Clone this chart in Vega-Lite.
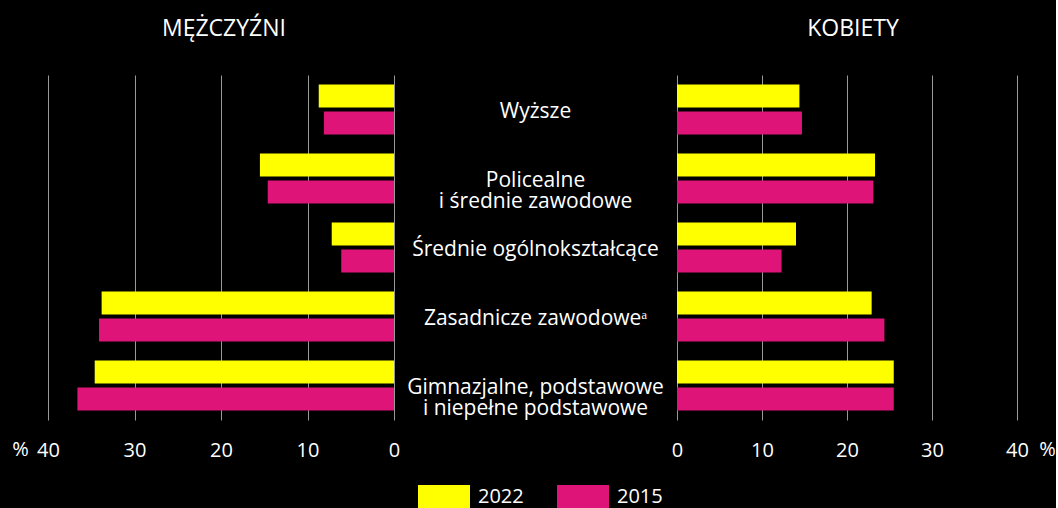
{
  "$schema": "https://vega.github.io/schema/vega-lite/v6.json",
  "background": "#000000",
  "padding": {"left": 11, "top": 18, "right": 0, "bottom": 0},
  "config": {
    "view": {"stroke": null},
    "font": "Open Sans",
    "concat": {"spacing": 0}
  },
  "bounds": "flush",
  "spacing": 0,
  "data": {
    "values": [
      {"category": "Wyższe", "sex": "M", "year": "2022", "value": 8.7},
      {"category": "Wyższe", "sex": "M", "year": "2015", "value": 8.1},
      {"category": "Policealne|i średnie zawodowe", "sex": "M", "year": "2022", "value": 15.5},
      {"category": "Policealne|i średnie zawodowe", "sex": "M", "year": "2015", "value": 14.6},
      {"category": "Średnie ogólnokształcące", "sex": "M", "year": "2022", "value": 7.2},
      {"category": "Średnie ogólnokształcące", "sex": "M", "year": "2015", "value": 6.1},
      {"category": "Zasadnicze zawodoweᵃ", "sex": "M", "year": "2022", "value": 33.8},
      {"category": "Zasadnicze zawodoweᵃ", "sex": "M", "year": "2015", "value": 34.1},
      {"category": "Gimnazjalne, podstawowe|i niepełne podstawowe", "sex": "M", "year": "2022", "value": 34.6},
      {"category": "Gimnazjalne, podstawowe|i niepełne podstawowe", "sex": "M", "year": "2015", "value": 36.6},
      {"category": "Wyższe", "sex": "K", "year": "2022", "value": 14.4},
      {"category": "Wyższe", "sex": "K", "year": "2015", "value": 14.7},
      {"category": "Policealne|i średnie zawodowe", "sex": "K", "year": "2022", "value": 23.3},
      {"category": "Policealne|i średnie zawodowe", "sex": "K", "year": "2015", "value": 23.1},
      {"category": "Średnie ogólnokształcące", "sex": "K", "year": "2022", "value": 14.0},
      {"category": "Średnie ogólnokształcące", "sex": "K", "year": "2015", "value": 12.3},
      {"category": "Zasadnicze zawodoweᵃ", "sex": "K", "year": "2022", "value": 22.9},
      {"category": "Zasadnicze zawodoweᵃ", "sex": "K", "year": "2015", "value": 24.4},
      {"category": "Gimnazjalne, podstawowe|i niepełne podstawowe", "sex": "K", "year": "2022", "value": 25.5},
      {"category": "Gimnazjalne, podstawowe|i niepełne podstawowe", "sex": "K", "year": "2015", "value": 25.5}
    ]
  },
  "resolve": {"scale": {"x": "independent", "y": "independent"}},
  "hconcat": [
    {
      "width": 346,
      "height": 345,
      "title": {"text": "MĘŻCZYŹNI", "fontSize": 23, "fontWeight": "normal", "color": "#ffffff", "baseline": "alphabetic", "offset": 16, "dx": 3, "font": "Open Sans"},
      "transform": [{"filter": "datum.sex == 'M'"}],
      "mark": {"type": "bar"},
      "encoding": {
        "y": {"field": "category", "type": "nominal", "sort": ["Wyższe", "Policealne|i średnie zawodowe", "Średnie ogólnokształcące", "Zasadnicze zawodoweᵃ", "Gimnazjalne, podstawowe|i niepełne podstawowe"], "axis": null, "scale": {"paddingInner": 0.275, "paddingOuter": 0.1375}},
        "yOffset": {"field": "year", "type": "nominal", "sort": ["2022", "2015"], "scale": {"paddingInner": 0.148}},
        "x": {"field": "value", "type": "quantitative", "scale": {"domain": [0, 40], "reverse": true},
          "axis": {"values": [0, 10, 20, 30, 40], "grid": true, "gridColor": "#999999", "gridWidth": 1, "domain": false, "ticks": false, "labelFlush": false, "labelPadding": 20, "labelFontSize": 20, "labelColor": "#ffffff", "labelFont": "Open Sans",
            "title": "%", "titleFontSize": 20, "titleFontWeight": "normal", "titleColor": "#ffffff", "titleX": -28, "titleY": 35, "titleBaseline": "alphabetic", "titleAlign": "center", "titleAnchor": null}},
        "color": {"field": "year", "type": "nominal", "scale": {"domain": ["2022", "2015"], "range": ["#ffff00", "#df1479"]},
          "legend": {"orient": "none", "legendX": 370, "legendY": 396, "direction": "horizontal", "title": null, "symbolType": "M-1,-0.46H1V0.46H-1Z", "symbolSize": 2704, "symbolStrokeWidth": 0, "labelFontSize": 20, "labelColor": "#ffffff", "labelFont": "Open Sans", "labelOffset": 8, "columnPadding": 33}}
      }
    },
    {
      "width": 283,
      "height": 345,
      "transform": [{"filter": "datum.sex == 'M' && datum.year == '2022'"}],
      "mark": {"type": "text", "color": "#ffffff", "fontSize": 21, "lineBreak": "|", "lineHeight": 21, "align": "center", "baseline": "middle", "dy": 2, "font": "Open Sans"},
      "encoding": {
        "y": {"field": "category", "type": "nominal", "sort": ["Wyższe", "Policealne|i średnie zawodowe", "Średnie ogólnokształcące", "Zasadnicze zawodoweᵃ", "Gimnazjalne, podstawowe|i niepełne podstawowe"], "axis": null, "scale": {"paddingInner": 0.275, "paddingOuter": 0.1375}},
        "x": {"datum": 0.5, "type": "quantitative", "scale": {"domain": [0, 1]}, "axis": null},
        "text": {"field": "category", "type": "nominal"}
      }
    },
    {
      "width": 340,
      "height": 345,
      "title": {"text": "KOBIETY", "fontSize": 23, "fontWeight": "normal", "color": "#ffffff", "baseline": "alphabetic", "offset": 16, "dx": 6, "font": "Open Sans"},
      "transform": [{"filter": "datum.sex == 'K'"}],
      "mark": {"type": "bar"},
      "encoding": {
        "y": {"field": "category", "type": "nominal", "sort": ["Wyższe", "Policealne|i średnie zawodowe", "Średnie ogólnokształcące", "Zasadnicze zawodoweᵃ", "Gimnazjalne, podstawowe|i niepełne podstawowe"], "axis": null, "scale": {"paddingInner": 0.275, "paddingOuter": 0.1375}},
        "yOffset": {"field": "year", "type": "nominal", "sort": ["2022", "2015"], "scale": {"paddingInner": 0.148}},
        "x": {"field": "value", "type": "quantitative", "scale": {"domain": [0, 40]},
          "axis": {"values": [0, 10, 20, 30, 40], "grid": true, "gridColor": "#999999", "gridWidth": 1, "domain": false, "ticks": false, "labelFlush": false, "labelPadding": 20, "labelFontSize": 20, "labelColor": "#ffffff", "labelFont": "Open Sans",
            "title": "%", "titleFontSize": 20, "titleFontWeight": "normal", "titleColor": "#ffffff", "titleX": 370, "titleY": 35, "titleBaseline": "alphabetic", "titleAlign": "center", "titleAnchor": null}},
        "color": {"field": "year", "type": "nominal", "scale": {"domain": ["2022", "2015"], "range": ["#ffff00", "#df1479"]}}
      }
    }
  ]
}
